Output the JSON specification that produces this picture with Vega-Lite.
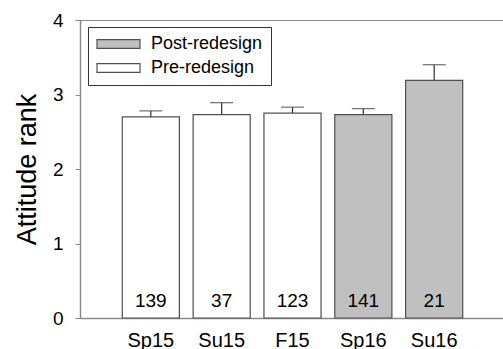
{
  "$schema": "https://vega.github.io/schema/vega-lite/v6.json",
  "width": 425,
  "height": 298,
  "autosize": {"type": "none"},
  "padding": {"left": 80, "top": 20, "right": 0, "bottom": 31},
  "config": {
    "font": "Liberation Sans",
    "view": {"stroke": "#8a8a8a", "strokeWidth": 1}
  },
  "data": {
    "values": [
      {"term": "Sp15", "mean": 2.70, "upper": 2.78, "n": 139, "group": "Pre-redesign"},
      {"term": "Su15", "mean": 2.73, "upper": 2.89, "n": 37, "group": "Pre-redesign"},
      {"term": "F15", "mean": 2.75, "upper": 2.83, "n": 123, "group": "Pre-redesign"},
      {"term": "Sp16", "mean": 2.73, "upper": 2.81, "n": 141, "group": "Post-redesign"},
      {"term": "Su16", "mean": 3.19, "upper": 3.40, "n": 21, "group": "Post-redesign"}
    ]
  },
  "encoding": {
    "x": {
      "field": "term", "type": "nominal", "sort": null,
      "scale": {"paddingInner": 0.194, "paddingOuter": 0.597},
      "axis": {"title": null, "ticks": false, "labelPadding": 12, "labelFontSize": 20, "labelColor": "#000", "labelAngle": 0, "domainColor": "#8a8a8a", "domainWidth": 1.5}
    }
  },
  "layer": [
    {
      "mark": {"type": "bar", "stroke": "#505050", "strokeWidth": 1.2},
      "encoding": {
        "y": {
          "field": "mean", "type": "quantitative",
          "scale": {"domain": [0, 4]},
          "axis": {"title": "Attitude rank", "values": [0, 1, 2, 3, 4], "format": "d", "grid": false, "tickSize": 5, "tickColor": "#8a8a8a", "domainColor": "#8a8a8a", "domainWidth": 1.5, "labelFontSize": 19, "labelColor": "#000", "labelPadding": 12, "titleFontSize": 27, "titleFontWeight": "normal", "titleColor": "#000", "titlePadding": 11}
        },
        "fill": {
          "field": "group", "type": "nominal",
          "scale": {"domain": ["Post-redesign", "Pre-redesign"], "range": ["#c0c0c0", "#ffffff"]},
          "legend": {
            "title": null, "orient": "none", "legendX": 8, "legendY": 7,
            "strokeColor": "#333333", "padding": 8,
            "labelFontSize": 18, "labelColor": "#000", "labelOffset": 10,
            "symbolType": "M-1,-0.2L1,-0.2L1,0.2L-1,0.2Z", "symbolSize": 1849,
            "symbolStrokeColor": "#505050", "symbolStrokeWidth": 1.2,
            "rowPadding": 6, "clipHeight": 18
          }
        }
      }
    },
    {
      "mark": {"type": "rule", "color": "#303030", "strokeWidth": 1.2},
      "encoding": {
        "y": {"field": "mean", "type": "quantitative"},
        "y2": {"field": "upper"}
      }
    },
    {
      "mark": {"type": "tick", "color": "#303030", "size": 23, "thickness": 1.2, "orient": "horizontal"},
      "encoding": {
        "y": {"field": "upper", "type": "quantitative"}
      }
    },
    {
      "mark": {"type": "text", "fontSize": 19, "dy": -11, "baseline": "alphabetic", "color": "#000"},
      "encoding": {
        "y": {"datum": 0, "type": "quantitative"},
        "text": {"field": "n", "type": "quantitative"}
      }
    }
  ]
}
